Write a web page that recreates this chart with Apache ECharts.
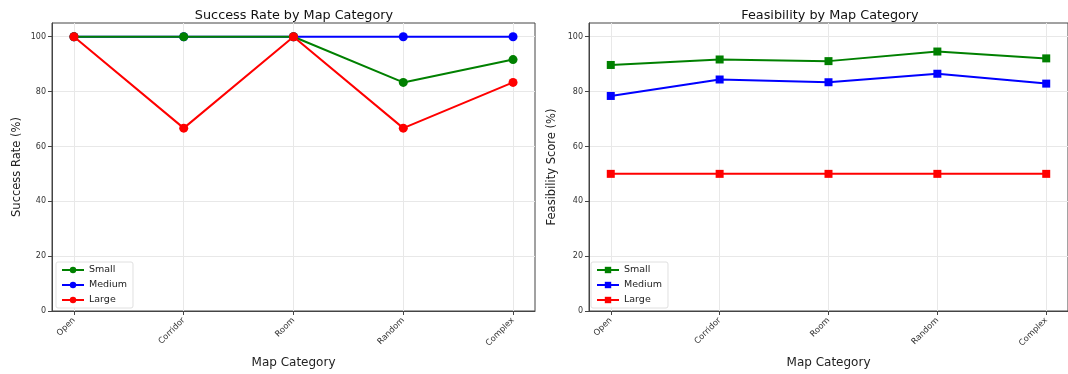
<!DOCTYPE html>
<html>
<head>
<meta charset="utf-8">
<script src="https://cdn.jsdelivr.net/npm/echarts@6/dist/echarts.min.js"></script>
<style>html,body{margin:0;padding:0;background:#fff;}#c{width:1068px;height:374px;}</style>
</head>
<body>
<div id="c"></div>
<script>
const categories = ['Open', 'Corridor', 'Room', 'Random', 'Complex'];
const seriesNames = ['Small', 'Medium', 'Large'];
const successSmall = [100, 100, 100, 83.33, 91.67];
const successMedium = [100, 100, 100, 100, 100];
const successLarge = [100, 66.67, 100, 66.67, 83.33];
const feasSmall = [89.7, 91.7, 91.1, 94.6, 92.1];
const feasMedium = [78.4, 84.4, 83.4, 86.5, 82.9];
const feasLarge = [50, 50, 50, 50, 50];
const yTicks = [0, 20, 40, 60, 80, 100];

const colors = ['#008000', '#0000ff', '#ff0000'];
const zOrder = [4, 3, 5];
const font = 'DejaVu Sans';
const catIdx = categories.map((c, i) => i);

function toPts(arr) { return arr.map((v, i) => [i, v]); }

function xAxis(gi) {
  return {
    type: 'value', gridIndex: gi, min: -0.2, max: 4.2,
    name: 'Map Category', nameLocation: 'middle', nameGap: 46,
    nameTextStyle: { fontFamily: font, fontSize: 12, color: '#222' },
    axisLine: { show: true, onZero: false, lineStyle: { color: '#444', width: 1 } },
    axisTick: { show: true, customValues: catIdx, length: 4, lineStyle: { color: '#444' } },
    axisLabel: { customValues: catIdx, rotate: 45, fontFamily: font, fontSize: 8.3, color: '#333', margin: 8,
      formatter: v => categories[Math.round(v)] },
    splitLine: { show: true, lineStyle: { color: '#e8e8e8', width: 1 } }
  };
}
function yAxis(gi, name, gap) {
  return {
    type: 'value', gridIndex: gi, min: 0, max: 105,
    name: name, nameLocation: 'middle', nameGap: gap, nameRotate: 90,
    nameTextStyle: { fontFamily: font, fontSize: 11.5, color: '#222' },
    axisLine: { show: true, onZero: false, lineStyle: { color: '#444', width: 1 } },
    axisTick: { show: true, customValues: yTicks, length: 4, lineStyle: { color: '#444' } },
    axisLabel: { customValues: yTicks, fontFamily: font, fontSize: 8, color: '#333', margin: 6 },
    splitLine: { show: true, lineStyle: { color: '#e8e8e8', width: 1 } }
  };
}
function lineSeries(name, data, idx, gi, symbol, size) {
  return {
    type: 'line', name: name, xAxisIndex: gi, yAxisIndex: gi, data: toPts(data),
    symbol: symbol, symbolSize: size, showSymbol: true,
    lineStyle: { color: colors[idx], width: 2 },
    itemStyle: { color: colors[idx] },
    emphasis: { disabled: true }, animation: false, z: zOrder[idx]
  };
}
function legend(left, suffix) {
  return {
    orient: 'vertical', left: left, top: 262,
    data: seriesNames.map(n => ({ name: n + suffix })),
    formatter: n => n.trim(),
    itemWidth: 22, itemHeight: 8, itemGap: 5,
    textStyle: { fontFamily: font, fontSize: 9.5, color: '#222' },
    backgroundColor: 'rgba(255,255,255,0.85)', borderColor: '#e0e0e0', borderWidth: 1, borderRadius: 2,
    padding: [3, 6, 3, 5], selectedMode: false
  };
}

const chart = echarts.init(document.getElementById('c'), null, { renderer: 'canvas' });
chart.setOption({
  backgroundColor: '#fff',
  animation: false,
  title: [
    { text: 'Success Rate by Map Category', left: 289, top: 4, textAlign: 'center',
      textStyle: { fontFamily: font, fontSize: 12.8, fontWeight: 'normal', color: '#111' } },
    { text: 'Feasibility by Map Category', left: 825, top: 4, textAlign: 'center',
      textStyle: { fontFamily: font, fontSize: 12.8, fontWeight: 'normal', color: '#111' } }
  ],
  grid: [
    { left: 52, top: 23, width: 483, height: 289, show: true, borderColor: '#444', borderWidth: 1, backgroundColor: 'transparent' },
    { left: 589, top: 23, width: 483, height: 289, show: true, borderColor: '#444', borderWidth: 1, backgroundColor: 'transparent' }
  ],
  xAxis: [xAxis(0), xAxis(1)],
  yAxis: [yAxis(0, 'Success Rate (%)', 29), yAxis(1, 'Feasibility Score (%)', 31)],
  legend: [legend(56, ''), legend(591, ' ')],
  series: [
    lineSeries('Small', successSmall, 0, 0, 'circle', 9),
    lineSeries('Medium', successMedium, 1, 0, 'circle', 9),
    lineSeries('Large', successLarge, 2, 0, 'circle', 9),
    lineSeries('Small ', feasSmall, 0, 1, 'rect', 8),
    lineSeries('Medium ', feasMedium, 1, 1, 'rect', 8),
    lineSeries('Large ', feasLarge, 2, 1, 'rect', 8)
  ]
});
</script>
</body>
</html>
